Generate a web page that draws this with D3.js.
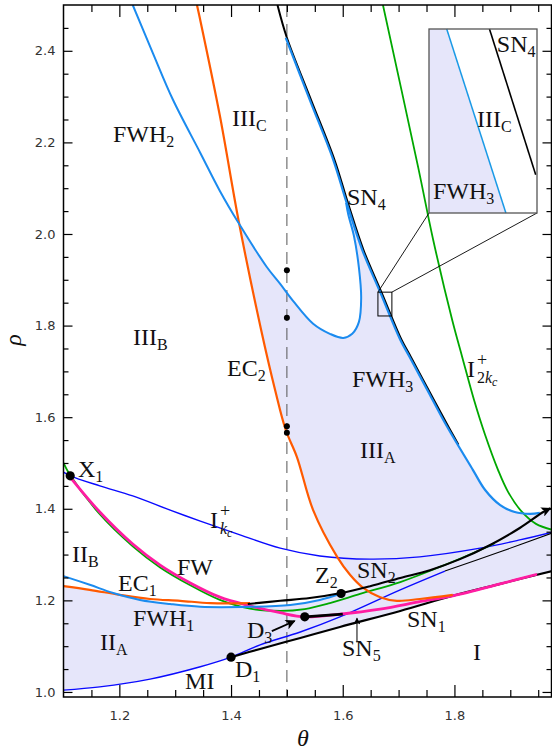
<!DOCTYPE html>
<html lang="en">
<head>
<meta charset="UTF-8">
<title>Bifurcation diagram in the (theta, rho) plane</title>
<script src="https://d3js.org/d3.v7.min.js"></script>
<style>
  body { margin: 0; background: #fff; }
  svg { display: block; }
  .lbl { font-family: "Liberation Serif", "Times New Roman", serif; font-size: 24px; fill: #111; }
  .tick text { font-family: "DejaVu Sans", sans-serif; font-size: 13px; fill: #333; }
  .tick line { stroke: #000; stroke-width: 1.2; }
  .curve { fill: none; stroke-linejoin: round; stroke-linecap: butt; }
</style>
</head>
<body>
<script>
// every curve is a list of [theta, rho]

// tick values
var xMajor = [1.2, 1.4, 1.6, 1.8];
var yMajor = [1.0, 1.2, 1.4, 1.6, 1.8, 2.0, 2.2, 2.4];

// orange: EC1 and EC2
var ec1 = [[1.100, 1.231], [1.147, 1.223], [1.201, 1.212], [1.255, 1.203], [1.309, 1.199], [1.363, 1.194], [1.434, 1.194]];
var ec2 = [[1.339, 2.500], [1.344, 2.472], [1.380, 2.258], [1.414, 2.026], [1.454, 1.790], [1.479, 1.659],
           [1.498, 1.572], [1.518, 1.513], [1.547, 1.397], [1.590, 1.295], [1.613, 1.256], [1.636, 1.228],
           [1.667, 1.207], [1.697, 1.199], [1.738, 1.203], [1.797, 1.212]];

// light blue: FWH1, FWH2 (with its loop), FWH3
var fwh1 = [[1.100, 1.253], [1.147, 1.234], [1.189, 1.216], [1.237, 1.201], [1.291, 1.192], [1.345, 1.186],
            [1.434, 1.186], [1.506, 1.190], [1.559, 1.201], [1.597, 1.215]];
var fwh2 = [[1.224, 2.500], [1.260, 2.395], [1.296, 2.293], [1.345, 2.177], [1.380, 2.094], [1.413, 2.025],
            [1.464, 1.928], [1.488, 1.891], [1.511, 1.854], [1.547, 1.804], [1.577, 1.782], [1.601, 1.773],
            [1.617, 1.782], [1.629, 1.808], [1.633, 1.860], [1.629, 1.926], [1.620, 1.996], [1.610, 2.042],
            [1.606, 2.068]];
var fwh3 = [[1.498, 2.428], [1.541, 2.293], [1.583, 2.162], [1.607, 2.068], [1.635, 1.965], [1.667, 1.873],
            [1.703, 1.769], [1.720, 1.731], [1.756, 1.649], [1.787, 1.579], [1.833, 1.485], [1.855, 1.441],
            [1.882, 1.408], [1.908, 1.393], [1.935, 1.389], [1.953, 1.391]];

// dark blue: I+kc and MI
var ikc = [[1.100, 1.480], [1.112, 1.472], [1.165, 1.450], [1.224, 1.428], [1.291, 1.397], [1.345, 1.373],
           [1.416, 1.343], [1.488, 1.314], [1.559, 1.297], [1.649, 1.290], [1.738, 1.295], [1.846, 1.314],
           [1.917, 1.332], [1.975, 1.349]];
var mi = [[1.100, 1.004], [1.165, 1.011], [1.255, 1.028], [1.345, 1.055], [1.400, 1.076], [1.452, 1.103],
          [1.524, 1.131], [1.595, 1.164], [1.703, 1.223], [1.783, 1.264]];
var miTail = [[1.783, 1.264], [1.882, 1.306], [1.975, 1.347]];

// green: lower branch and I+2kc
var g1 = [[1.100, 1.500], [1.110, 1.477], [1.165, 1.388], [1.224, 1.318], [1.273, 1.272], [1.327, 1.233],
          [1.380, 1.201], [1.434, 1.182], [1.488, 1.177], [1.532, 1.181], [1.577, 1.194], [1.631, 1.214],
          [1.703, 1.240], [1.774, 1.273], [1.846, 1.310], [1.872, 1.325]];
var i2kc = [[1.672, 2.500], [1.735, 2.146], [1.762, 1.987], [1.796, 1.812], [1.814, 1.731], [1.835, 1.638],
            [1.855, 1.561], [1.878, 1.485], [1.896, 1.437], [1.921, 1.393], [1.946, 1.367], [1.975, 1.354]];

// magenta: FW
var fw = [[1.110, 1.472], [1.165, 1.393], [1.224, 1.323], [1.273, 1.277], [1.327, 1.238], [1.380, 1.207],
          [1.434, 1.188], [1.488, 1.173], [1.532, 1.164], [1.595, 1.170], [1.667, 1.181], [1.738, 1.197],
          [1.797, 1.210], [1.882, 1.236], [1.948, 1.257]];

// black: saddle-node lines
var sn1 = [[1.400, 1.076], [1.452, 1.094], [1.524, 1.118], [1.595, 1.142], [1.703, 1.177], [1.797, 1.210],
           [1.882, 1.236], [1.975, 1.264]];
var sn2 = [[1.430, 1.192], [1.488, 1.199], [1.541, 1.205], [1.597, 1.216], [1.649, 1.231], [1.703, 1.249],
           [1.756, 1.266], [1.810, 1.290], [1.864, 1.321], [1.917, 1.358], [1.959, 1.393], [1.972, 1.401]];
var sn4 = [[1.481, 2.500], [1.498, 2.428], [1.541, 2.293], [1.583, 2.162], [1.607, 2.068], [1.635, 1.965],
           [1.667, 1.873], [1.703, 1.769], [1.720, 1.731], [1.756, 1.649], [1.787, 1.579], [1.805, 1.540]];
var sn5 = [[1.532, 1.164], [1.600, 1.170]];

// marked points
var thetaDash = 1.5;
var dashDots = [1.921, 1.817, 1.580, 1.566];
var bigDots = [[1.112, 1.472], [1.400, 1.076], [1.532, 1.164], [1.597, 1.215]]; // X1, D1, D3, Z2

// arrows
var d3Arrow = [[1.473, 1.133], [1.514, 1.155]];
var sn5Arrow = [[1.6255, 1.108], [1.6255, 1.161]];

// inset: magnified window and what it shows
var insetTheta = [1.663, 1.688];
var insetRho = [1.821, 1.873];
var insetFwh3 = [[1.6671, 1.873], [1.6808, 1.821]];
var insetSn4 = [[1.6770, 1.873], [1.6877, 1.8318]];

// text labels: [main, subscript, theta, rho]
var labels = [
  ["FWH", "2", 1.1886, 2.2009], ["III", "C", 1.4017, 2.2358], ["SN", "4", 1.6076, 2.0633],
  ["III", "B", 1.2244, 1.7576], ["EC", "2", 1.3928, 1.6900], ["FWH", "3", 1.6166, 1.6659],
  ["III", "A", 1.6309, 1.5109], ["X", "1", 1.1260, 1.4694], ["II", "B", 1.1152, 1.2838],
  ["FW", "", 1.3032, 1.2555], ["EC", "1", 1.1976, 1.2205], ["FWH", "1", 1.2244, 1.1441],
  ["II", "A", 1.1654, 1.0917], ["MI", "", 1.3177, 1.0066], ["D", "1", 1.4071, 1.0328],
  ["D", "3", 1.4286, 1.1179], ["Z", "2", 1.5503, 1.2380], ["SN", "2", 1.6255, 1.2489],
  ["SN", "1", 1.7150, 1.1419], ["SN", "5", 1.5987, 1.0786], ["I", "", 1.8332, 1.0699]
];
// I+ labels: [number before k, theta, rho]
var iLabels = [["2", 1.8225, 1.6878], ["", 1.3623, 1.3581]];
var insetLabels = [["SN", "4", 1.6787, 1.8665], ["III", "C", 1.6741, 1.8453], ["FWH", "3", 1.6639, 1.8250]];

var orange = "#ff5a00", lightBlue = "#1b8bef", blue = "#0a0aff", green = "#00a800",
    magenta = "#ff1ca2", shadeFill = "#e6e6fa";

var svg = d3.select("body").append("svg").attr("width", 552).attr("height", 750);

var x = d3.scaleLinear().domain([1.1, 1.9747]).range([63.5, 552]);
var y = d3.scaleLinear().domain([0.989, 2.5]).range([697, 5]);

var defs = svg.append("defs");
defs.append("clipPath").attr("id", "plotClip")
  .append("rect").attr("x", 63.5).attr("y", 5).attr("width", 488).attr("height", 692);

function marker(id, w, h) {
  defs.append("marker").attr("id", id)
    .attr("viewBox", "0 0 10 10").attr("refX", 9).attr("refY", 5)
    .attr("markerUnits", "userSpaceOnUse").attr("markerWidth", w).attr("markerHeight", h)
    .attr("orient", "auto")
    .append("path").attr("d", "M0,0 L10,5 L0,10 L2.5,5 z").attr("fill", "#000");
}
marker("headBig", 13, 10);
marker("headSmall", 8, 7);

var line = d3.line().x(function (d) { return x(d[0]); }).y(function (d) { return y(d[1]); })
  .curve(d3.curveCatmullRom.alpha(0.5));
var straight = d3.line().x(function (d) { return x(d[0]); }).y(function (d) { return y(d[1]); });

var plot = svg.append("g").attr("clip-path", "url(#plotClip)");

// shaded region, glued together from pieces of the curves
var pieces = [
  mi.filter(function (d) { return d[0] <= 1.4; }),
  sn1,
  sn2.slice(-1).concat(fwh3.slice(3).reverse()),
  fwh2.slice(5).reverse(),
  ec2.slice(3, 12),
  [ec2[11], bigDots[3]],
  fwh1.filter(function (d) { return d[0] >= 1.19; }).reverse(),
  ec1.filter(function (d) { return d[0] < 1.19; }).reverse()
];
var shadePath = pieces.map(function (p, i) {
  var s = p.length > 2 ? line(p) : straight(p);
  return i ? s.replace(/^M/, "L") : s;
}).join("") + "Z";
plot.append("path").attr("d", shadePath).attr("fill", shadeFill).attr("stroke", "none");

// dashed line at theta = 1.5
plot.append("line")
  .attr("x1", x(thetaDash)).attr("x2", x(thetaDash)).attr("y1", 5).attr("y2", 697)
  .attr("stroke", "#555").attr("stroke-width", 1).attr("stroke-dasharray", "12,7");

function draw(data, color, width, g) {
  return (g || plot).append("path").datum(data).attr("class", "curve")
    .attr("d", line).attr("stroke", color).attr("stroke-width", width);
}

draw(ikc, blue, 1.4);
draw(mi, blue, 1.4);
draw(miTail, "#000", 1.1);
draw(sn1, "#000", 2.1);
draw(g1, green, 1.8);
draw(i2kc, green, 1.8);
draw(fw, magenta, 2.8);
draw(ec1, orange, 2.2);
draw(ec2, orange, 2.2);
draw(fwh1, lightBlue, 2);
draw(fwh2, lightBlue, 2);
draw(sn4, "#000", 2).attr("transform", "translate(1.2,0)");
draw(fwh3, lightBlue, 2.2);
draw(sn5, "#000", 2.6);

svg.append("path").datum(sn2).attr("class", "curve").attr("d", line)
  .attr("stroke", "#000").attr("stroke-width", 2.1).attr("marker-end", "url(#headBig)");

// dots
plot.selectAll(".dashDot").data(dashDots).enter().append("circle")
  .attr("cx", x(thetaDash)).attr("cy", function (d) { return y(d); }).attr("r", 3).attr("fill", "#000");
svg.selectAll(".bigDot").data(bigDots).enter().append("circle")
  .attr("cx", function (d) { return x(d[0]); }).attr("cy", function (d) { return y(d[1]); })
  .attr("r", 4.6).attr("fill", "#000");

// arrows
svg.append("path").datum(d3Arrow).attr("d", straight).attr("stroke", "#000")
  .attr("stroke-width", 1.8).attr("marker-end", "url(#headBig)");
svg.append("path").datum(sn5Arrow).attr("d", straight).attr("stroke", "#000")
  .attr("stroke-width", 1).attr("marker-end", "url(#headSmall)");

// labels
function addLabel(g, d, sx, sy) {
  var t = g.append("text").attr("class", "lbl").attr("x", sx(d[2])).attr("y", sy(d[3]));
  t.append("tspan").text(d[0]);
  if (d[1]) t.append("tspan").attr("dy", 5).attr("font-size", 16).text(d[1]);
}
labels.forEach(function (d) { addLabel(svg, d, x, y); });

// I with a "+" above and a k_c subscript below, kept in one text element
iLabels.forEach(function (d) {
  var px = x(d[1]), py = y(d[2]);
  var t = svg.append("text").attr("class", "lbl").attr("x", px).attr("y", py);
  t.append("tspan").text("I");
  t.append("tspan").attr("x", px + 10).attr("y", py - 11).attr("font-size", 18).text("+");
  var first = true;
  if (d[0]) {
    t.append("tspan").attr("x", px + 10).attr("y", py + 6).attr("font-size", 16).text(d[0]);
    first = false;
  }
  var k = t.append("tspan").attr("font-size", 16).attr("font-style", "italic").text("k");
  if (first) k.attr("x", px + 10).attr("y", py + 6);
  t.append("tspan").attr("dy", 3).attr("font-size", 12).attr("font-style", "italic").text("c");
});

// axes: ticks inside on all four sides
var xMinor = d3.range(23, 40).filter(function (i) { return i % 4; }).map(function (i) { return i * 0.05; });
var yMinor = d3.range(21, 50).filter(function (i) { return i % 4; }).map(function (i) { return i * 0.05; });

svg.append("g").attr("transform", "translate(0,697)")
  .call(d3.axisBottom(x).tickValues(xMajor).tickSize(-12).tickPadding(14).tickFormat(d3.format(".1f")));
svg.append("g").attr("transform", "translate(0,697)")
  .call(d3.axisBottom(x).tickValues(xMinor).tickSize(-7).tickFormat(""));
svg.append("g").attr("transform", "translate(0,5)")
  .call(d3.axisTop(x).tickValues(xMajor).tickSize(-12).tickFormat(""));
svg.append("g").attr("transform", "translate(0,5)")
  .call(d3.axisTop(x).tickValues(xMinor).tickSize(-7).tickFormat(""));
svg.append("g").attr("transform", "translate(63.5,0)")
  .call(d3.axisLeft(y).tickValues(yMajor).tickSize(-9).tickPadding(8).tickFormat(d3.format(".1f")));
svg.append("g").attr("transform", "translate(63.5,0)")
  .call(d3.axisLeft(y).tickValues(yMinor).tickSize(-5).tickFormat(""));
svg.append("g").attr("transform", "translate(551.5,0)")
  .call(d3.axisRight(y).tickValues(yMajor).tickSize(-9).tickFormat(""));
svg.append("g").attr("transform", "translate(551.5,0)")
  .call(d3.axisRight(y).tickValues(yMinor).tickSize(-5).tickFormat(""));
svg.selectAll(".domain").remove();

svg.append("rect").attr("x", 63.5).attr("y", 5).attr("width", 488).attr("height", 692)
  .attr("fill", "none").attr("stroke", "#000").attr("stroke-width", 1.5);

svg.append("text").attr("class", "lbl").attr("x", 303).attr("y", 746)
  .attr("text-anchor", "middle").attr("font-style", "italic").text("θ");
svg.append("text").attr("class", "lbl").attr("transform", "translate(21,340) rotate(-90)")
  .attr("text-anchor", "middle").attr("font-style", "italic").attr("font-size", 22).text("ρ");

// inset
var xi = d3.scaleLinear().domain(insetTheta).range([429, 537]);
var yi = d3.scaleLinear().domain(insetRho).range([213, 29]);
var lineI = d3.line().x(function (d) { return xi(d[0]); }).y(function (d) { return yi(d[1]); });

// zoom window in the main plot and its connectors
svg.append("rect").attr("x", x(insetTheta[0])).attr("y", y(insetRho[1]))
  .attr("width", x(insetTheta[1]) - x(insetTheta[0])).attr("height", y(insetRho[0]) - y(insetRho[1]))
  .attr("fill", "none").attr("stroke", "#000").attr("stroke-width", 1);
svg.append("line").attr("x1", x(insetTheta[0])).attr("y1", y(insetRho[1]))
  .attr("x2", xi(insetTheta[0])).attr("y2", yi(insetRho[0])).attr("stroke", "#000").attr("stroke-width", 0.9);
svg.append("line").attr("x1", x(insetTheta[1])).attr("y1", y(insetRho[1]))
  .attr("x2", xi(insetTheta[1])).attr("y2", yi(insetRho[0])).attr("stroke", "#000").attr("stroke-width", 0.9);

var inset = svg.append("g");
inset.append("rect").attr("x", 429).attr("y", 29).attr("width", 108).attr("height", 184).attr("fill", "#fff");
inset.append("path")
  .datum([[insetTheta[0], insetRho[1]]].concat(insetFwh3, [[insetTheta[0], insetRho[0]]]))
  .attr("d", lineI).attr("fill", shadeFill);
inset.append("path").datum(insetFwh3).attr("d", lineI).attr("fill", "none")
  .attr("stroke", "#1a9ae6").attr("stroke-width", 1.5);
inset.append("path").datum(insetSn4).attr("d", lineI).attr("fill", "none")
  .attr("stroke", "#000").attr("stroke-width", 1.6);
insetLabels.forEach(function (d) { addLabel(inset, d, xi, yi); });
inset.append("rect").attr("x", 429).attr("y", 29).attr("width", 108).attr("height", 184)
  .attr("fill", "none").attr("stroke", "#555").attr("stroke-width", 1.3);
</script>
</body>
</html>
